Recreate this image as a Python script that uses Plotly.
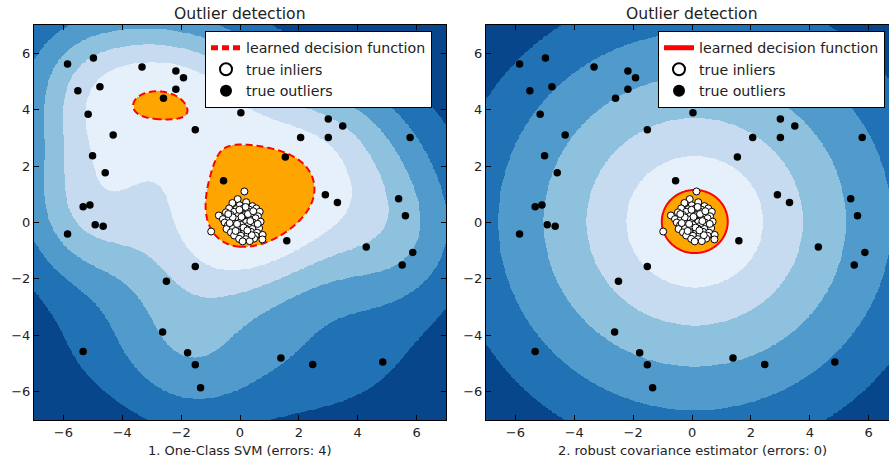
import numpy as np
import plotly.graph_objects as go

# ---------------- data ----------------
# true outliers (the last two sit behind the legend box)
outlier_x = [-5.86, -4.98, -5.51, -4.76, -5.16, -4.31, -3.33, -2.18, -1.92, -2.18, -2.60, -1.52,
             -5.01, -4.58, -0.56, -5.33, -5.10, -4.92, -4.65, -5.86, -1.52, -2.50, -2.63, -5.33,
             -1.78, -1.52, -1.34, 0.03, 3.00, 3.49, 2.06, 3.00, 5.78, 1.54, 2.90, 3.31, 5.39,
             5.62, 1.59, 4.29, 5.87, 5.51, 1.39, 2.47, 4.85, -1.00, -0.30]
outlier_y = [5.62, 5.83, 4.67, 4.81, 3.84, 3.10, 5.51, 5.37, 5.13, 4.72, 4.40, 3.29,
             2.37, 1.76, 1.48, 0.56, 0.62, -0.08, -0.13, -0.41, -1.56, -2.08, -3.88, -4.57,
             -4.62, -5.04, -5.86, 3.89, 3.67, 3.42, 3.01, 3.01, 3.01, 2.32, 0.98, 0.71, 0.84,
             0.24, -0.65, -0.87, -1.06, -1.51, -4.80, -5.03, -4.94, 4.60, 4.90]

# true inliers (tight cluster around the origin)
inlier_x = [0.15, -0.08, -0.26, 0.21, -0.01, 0.42,
            -0.37, -0.13, 0.10, 0.31, 0.55,
            -0.48, -0.20, 0.04, 0.25, 0.48, 0.67,
            -0.72, -0.31, -0.07, 0.16, 0.38, 0.61,
            -0.58, -0.37, -0.13, 0.08, 0.32, 0.53,
            -0.52, -0.26, -0.02, 0.21, 0.44, 0.70,
            -0.41, -0.18, 0.04, 0.27, 0.50,
            -0.46, -0.24, -0.03, 0.19, 0.42, 0.65,
            -0.98, -0.31, -0.09, 0.14, 0.37, 0.58,
            -0.20, 0.03, 0.26, 0.53, 0.77,
            -0.03, 0.20, 0.48, 0.76,
            0.09, 0.33,
            -0.02, 0.19, -0.25, 0.27, -0.10, 0.12, 0.35, -0.35, 0.60, 0.05, -0.15, 0.40, 0.25, -0.40, 0.45]
inlier_y = [1.10, 0.83, 0.69, 0.72, 0.61, 0.58,
            0.50, 0.47, 0.49, 0.46, 0.50,
            0.36, 0.38, 0.35, 0.39, 0.35, 0.38,
            0.25, 0.27, 0.23, 0.26, 0.24, 0.22,
            0.12, 0.14, 0.11, 0.14, 0.12, 0.15,
            0.00, 0.03, -0.01, 0.02, 0.00, 0.03,
            -0.10, -0.12, -0.09, -0.12, -0.10,
            -0.23, -0.21, -0.24, -0.21, -0.23, -0.20,
            -0.32, -0.35, -0.33, -0.36, -0.33, -0.36,
            -0.46, -0.47, -0.45, -0.47, -0.44,
            -0.58, -0.59, -0.57, -0.60,
            -0.67, -0.66,
            0.45, 0.55, 0.18, 0.30, -0.05, -0.18, 0.05, -0.02, -0.05, 0.20, -0.30, -0.45, -0.28, 0.30, 0.40]

tick_vals = [-6, -4, -2, 0, 2, 4, 6]
panel_titles = ["Outlier detection", "Outlier detection"]
panel_xlabels = ["1. One-Class SVM (errors: 4)", "2. robust covariance estimator (errors: 0)"]
legend_names = ["learned decision function", "true inliers", "true outliers"]

# ---------------- decision functions ----------------
# One-class SVM: RBF expansion over outlier support vectors plus the inlier cluster
OUTLIER_GAMMA = 0.15
CLUSTER_GAMMA = 0.12
CLUSTER_WEIGHT = 7.0
SVM_THRESHOLD = 9.66
# Robust covariance: radial score around the robust centre
COV_RADIUS = 1.12
COV_POWER = 0.8

grid = np.linspace(-7, 7, 500)
XX, YY = np.meshgrid(grid, grid)
ox, oy = np.array(outlier_x), np.array(outlier_y)
ix, iy = np.array(inlier_x), np.array(inlier_y)
cx, cy = ix.mean(), iy.mean()

Z_svm = np.zeros_like(XX)
for a, b in zip(ox, oy):
    Z_svm += np.exp(-OUTLIER_GAMMA * ((XX - a) ** 2 + (YY - b) ** 2))
Z_svm += CLUSTER_WEIGHT * np.exp(-CLUSTER_GAMMA * ((XX - cx) ** 2 + (YY - cy) ** 2))

Z_cov = -np.hypot(XX - cx, YY - cy) ** COV_POWER
cov_thr = -COV_RADIUS ** COV_POWER

# Blues_r bands (6 levels below the threshold) + orange above it
band_colors = ["#08468c", "#2171b5", "#509bcb", "#8dc1dd", "#c6dbef", "#e6f0fa", "#ffa500"]
colorscale = []
for k, c in enumerate(band_colors):
    colorscale += [[k / 7, c], [(k + 1) / 7, c]]


def band_index(Z, thr):
    zmin = Z.min()
    step = (thr - zmin) / 6
    idx = np.clip(np.floor((Z - zmin) / step), 0, 5)
    idx[Z >= thr] = 6
    return idx.astype(np.int8)


fig = go.Figure()
FONT = "DejaVu Sans"

panels = [
    dict(Z=Z_svm, thr=SVM_THRESHOLD, dash="7px,4px", xa="x", ya="y", leg="legend"),
    dict(Z=Z_cov, thr=cov_thr, dash="solid", xa="x2", ya="y2", leg="legend2"),
]
for p in panels:
    fig.add_trace(go.Heatmap(x=grid, y=grid, z=band_index(p["Z"], p["thr"]), colorscale=colorscale,
                             zmin=-0.5, zmax=6.5, showscale=False, hoverinfo="skip",
                             xaxis=p["xa"], yaxis=p["ya"]))
    fig.add_trace(go.Contour(x=grid, y=grid, z=p["Z"], autocontour=False,
                             contours=dict(start=p["thr"], end=p["thr"], size=1, coloring="none"),
                             line=dict(color="red", width=2, dash=p["dash"]),
                             showscale=False, showlegend=False, hoverinfo="skip",
                             xaxis=p["xa"], yaxis=p["ya"]))
    fig.add_trace(go.Scatter(x=[None], y=[None], mode="lines", name=legend_names[0],
                             line=dict(color="red", width=2, dash=p["dash"]),
                             xaxis=p["xa"], yaxis=p["ya"], legend=p["leg"]))
    fig.add_trace(go.Scatter(x=inlier_x, y=inlier_y, mode="markers", name=legend_names[1],
                             marker=dict(color="white", size=7, line=dict(color="black", width=1)),
                             xaxis=p["xa"], yaxis=p["ya"], legend=p["leg"], hoverinfo="skip"))
    fig.add_trace(go.Scatter(x=outlier_x, y=outlier_y, mode="markers", name=legend_names[2],
                             marker=dict(color="black", size=7.5),
                             xaxis=p["xa"], yaxis=p["ya"], legend=p["leg"], hoverinfo="skip"))

W, H = 889, 460
ax_common = dict(tickvals=tick_vals, ticks="inside", ticklen=5, tickcolor="black",
                 showline=True, linecolor="black", linewidth=1, showgrid=False, zeroline=False,
                 tickfont=dict(family=FONT, size=13, color="#222"))
y_dom = [1 - 420 / H, 1 - 25 / H]
leg_common = dict(bgcolor="white", bordercolor="black", borderwidth=1,
                  font=dict(family=FONT, size=14.2, color="#222"), xanchor="left", yanchor="top",
                  itemsizing="constant")

fig.update_layout(
    width=W, height=H, margin=dict(l=0, r=0, t=0, b=0),
    paper_bgcolor="white", plot_bgcolor="white",
    xaxis=dict(domain=[34 / W, 446 / W], range=[-7, 7], mirror="allticks", anchor="y", **ax_common),
    yaxis=dict(domain=y_dom, range=[-7, 7], mirror="allticks", anchor="x", **ax_common),
    xaxis2=dict(domain=[486 / W, 1.0], range=[-7, 6.69], mirror="allticks", anchor="y2", **ax_common),
    yaxis2=dict(domain=y_dom, range=[-7, 7], mirror=False, anchor="x2", **ax_common),
    legend=dict(x=205 / W, y=1 - 31 / H, **leg_common),
    legend2=dict(x=658 / W, y=1 - 31 / H, **leg_common),
    font=dict(family=FONT, color="#222"),
)

for cxp, t, xl in zip([240 / W, 692 / W], panel_titles, panel_xlabels):
    fig.add_annotation(x=cxp, y=1 - 14 / H, xref="paper", yref="paper", text=t, showarrow=False,
                       font=dict(family=FONT, size=15.6, color="#222"), xanchor="center", yanchor="middle")
    fig.add_annotation(x=cxp, y=1 - 450 / H, xref="paper", yref="paper", text=xl, showarrow=False,
                       font=dict(family=FONT, size=13, color="#222"), xanchor="center", yanchor="middle")

fig.write_html("out.html")
